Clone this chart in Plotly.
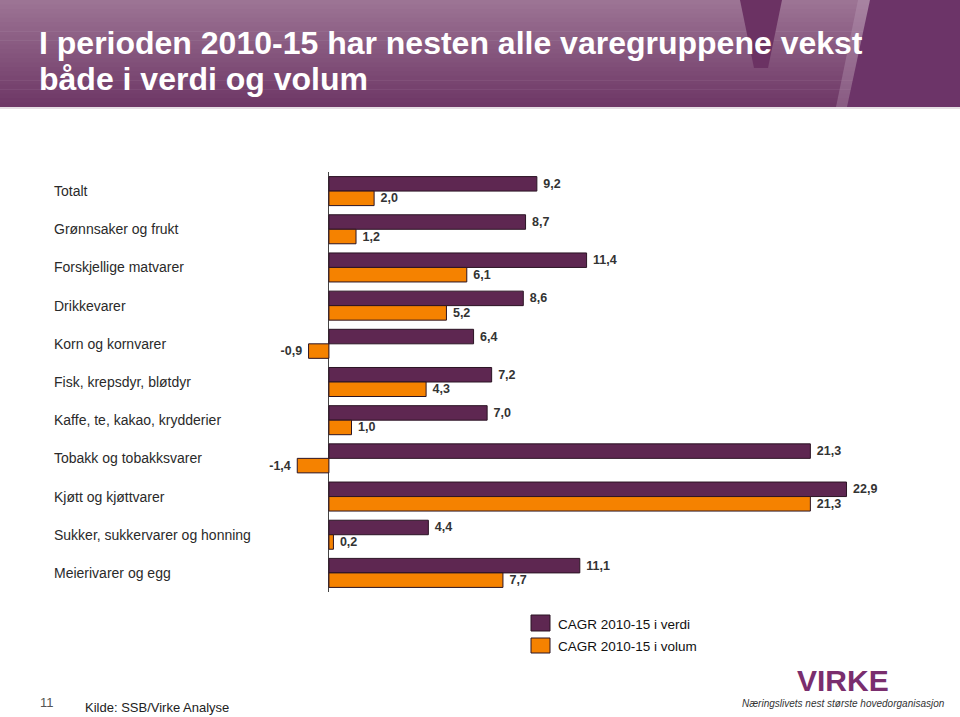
import plotly.graph_objects as go

categories = [
    "Totalt",
    "Grønnsaker og frukt",
    "Forskjellige matvarer",
    "Drikkevarer",
    "Korn og kornvarer",
    "Fisk, krepsdyr, bløtdyr",
    "Kaffe, te, kakao, krydderier",
    "Tobakk og tobakksvarer",
    "Kjøtt og kjøttvarer",
    "Sukker, sukkervarer og honning",
    "Meierivarer og egg",
]
verdi = [9.2, 8.7, 11.4, 8.6, 6.4, 7.2, 7.0, 21.3, 22.9, 4.4, 11.1]
volum = [2.0, 1.2, 6.1, 5.2, -0.9, 4.3, 1.0, -1.4, 21.3, 0.2, 7.7]
series_names = ["CAGR 2010-15 i verdi", "CAGR 2010-15 i volum"]
title_lines = ["I perioden 2010-15 har nesten alle varegruppene vekst", "både i verdi og volum"]

W, H = 960, 717
L, R, T, B = 295, 66, 172, 125
PW, PH = W - L - R, H - T - B

def px(x):
    return (x - L) / PW

def py(y):
    return (H - B - y) / PH

PURPLE = "#5e2751"
ORANGE = "#f58200"
EDGE = "#2b1424"
FONT = "Liberation Sans, Arial, sans-serif"
NB = "\u00a0"

fig = go.Figure()
for name, vals, col in [(series_names[0], verdi, PURPLE), (series_names[1], volum, ORANGE)]:
    templates = [(NB + "%{x:.1f}") if v >= 0 else ("%{x:.1f}" + NB) for v in vals]
    fig.add_trace(go.Bar(
        y=categories, x=vals, orientation="h", name=name,
        marker=dict(color=col, line=dict(color=EDGE, width=1)),
        texttemplate=templates, textposition="outside", constraintext="none",
        textfont=dict(family=FONT, size=12.5, color="#333333", weight="bold"),
        cliponaxis=False, showlegend=False, hoverinfo="skip",
    ))

shapes = []
# header gradient
n = 24
top_c = (156, 116, 148)
bot_c = (110, 56, 102)
hh = 107
for i in range(n):
    f = i / (n - 1)
    c = tuple(int(top_c[k] + (bot_c[k] - top_c[k]) * f) for k in range(3))
    y0 = hh * i / n
    y1 = hh * (i + 1) / n + 0.6
    shapes.append(dict(type="rect", xref="paper", yref="paper",
                       x0=px(0), x1=px(W), y0=py(y1), y1=py(y0),
                       fillcolor="rgb(%d,%d,%d)" % c, line=dict(width=0), layer="below"))

def path(points):
    return "M " + " L ".join("%.5f,%.5f" % (px(a), py(b)) for a, b in points) + " Z"

# V watermark left arm
shapes.append(dict(type="path", xref="paper", yref="paper",
                   path=path([(740, 0), (782, 0), (768, 68), (754, 68)]),
                   fillcolor="#6b3263", line=dict(width=0), layer="below"))
# light stripe
shapes.append(dict(type="path", xref="paper", yref="paper",
                   path=path([(858, 0), (872, 0), (849, hh), (836, hh)]),
                   fillcolor="rgba(190,160,185,0.35)", line=dict(width=0), layer="below"))
# right dark block
shapes.append(dict(type="path", xref="paper", yref="paper",
                   path=path([(870, 0), (960, 0), (960, hh), (847, hh)]),
                   fillcolor="#6c3468", line=dict(width=0), layer="below"))
# thin line under header
shapes.append(dict(type="rect", xref="paper", yref="paper",
                   x0=px(0), x1=px(W), y0=py(109), y1=py(hh),
                   fillcolor="#e6dfe4", line=dict(width=0), layer="below"))

# legend boxes
shapes.append(dict(type="rect", xref="paper", yref="paper",
                   x0=px(531), x1=px(550), y0=py(631), y1=py(615),
                   fillcolor=PURPLE, line=dict(color=EDGE, width=1)))
shapes.append(dict(type="rect", xref="paper", yref="paper",
                   x0=px(531), x1=px(550), y0=py(653), y1=py(638),
                   fillcolor=ORANGE, line=dict(color=EDGE, width=1)))

annotations = []
for cat in categories:
    annotations.append(dict(x=px(52), xref="paper", y=cat, yref="y", text=cat,
                            xanchor="left", yanchor="middle", showarrow=False,
                            font=dict(family=FONT, size=14, color="#2a2a2a")))

TFONT = dict(family=FONT, size=32, color="white", weight="bold")
annotations.append(dict(x=px(37), y=py(43), xref="paper", yref="paper",
                        text=title_lines[0], xanchor="left", yanchor="middle", showarrow=False,
                        font=TFONT))
annotations.append(dict(x=px(37), y=py(79), xref="paper", yref="paper",
                        text=title_lines[1], xanchor="left", yanchor="middle", showarrow=False,
                        font=TFONT))

annotations.append(dict(x=px(556), y=py(624), xref="paper", yref="paper", text=series_names[0],
                        xanchor="left", yanchor="middle", showarrow=False,
                        font=dict(family=FONT, size=13.5, color="#111111")))
annotations.append(dict(x=px(556), y=py(646), xref="paper", yref="paper", text=series_names[1],
                        xanchor="left", yanchor="middle", showarrow=False,
                        font=dict(family=FONT, size=13.5, color="#111111")))

annotations.append(dict(x=px(38), y=py(702), xref="paper", yref="paper", text="11",
                        xanchor="left", yanchor="middle", showarrow=False,
                        font=dict(family=FONT, size=13, color="#555555")))
annotations.append(dict(x=px(83), y=py(707), xref="paper", yref="paper", text="Kilde: SSB/Virke Analyse",
                        xanchor="left", yanchor="middle", showarrow=False,
                        font=dict(family=FONT, size=13, color="#222222")))

annotations.append(dict(x=px(843), y=py(680), xref="paper", yref="paper", text="VIRKE",
                        xanchor="center", yanchor="middle", showarrow=False,
                        font=dict(family=FONT, size=30, color="#7a2e6e", weight="bold")))
annotations.append(dict(x=px(843), y=py(703), xref="paper", yref="paper",
                        text="Næringslivets nest største hovedorganisasjon",
                        xanchor="center", yanchor="middle", showarrow=False,
                        font=dict(family=FONT, size=10, color="#333333", style="italic")))

fig.update_layout(
    width=W, height=H,
    margin=dict(l=L, r=R, t=T, b=B, pad=0),
    paper_bgcolor="white", plot_bgcolor="white",
    barmode="group", bargap=0.24, bargroupgap=0,
    separators=", ",
    shapes=shapes, annotations=annotations,
    showlegend=False, hovermode=False,
    xaxis=dict(range=[-1.5, 25], showgrid=False, showticklabels=False, ticks="",
               zeroline=True, zerolinecolor="#444444", zerolinewidth=1, fixedrange=True),
    yaxis=dict(autorange="reversed", showticklabels=False, ticks="", showgrid=False,
               showline=False, fixedrange=True),
)

fig.write_html("out.html", config={"displayModeBar": False},
               post_script="document.body.style.margin='0';document.body.style.overflow='hidden';")
